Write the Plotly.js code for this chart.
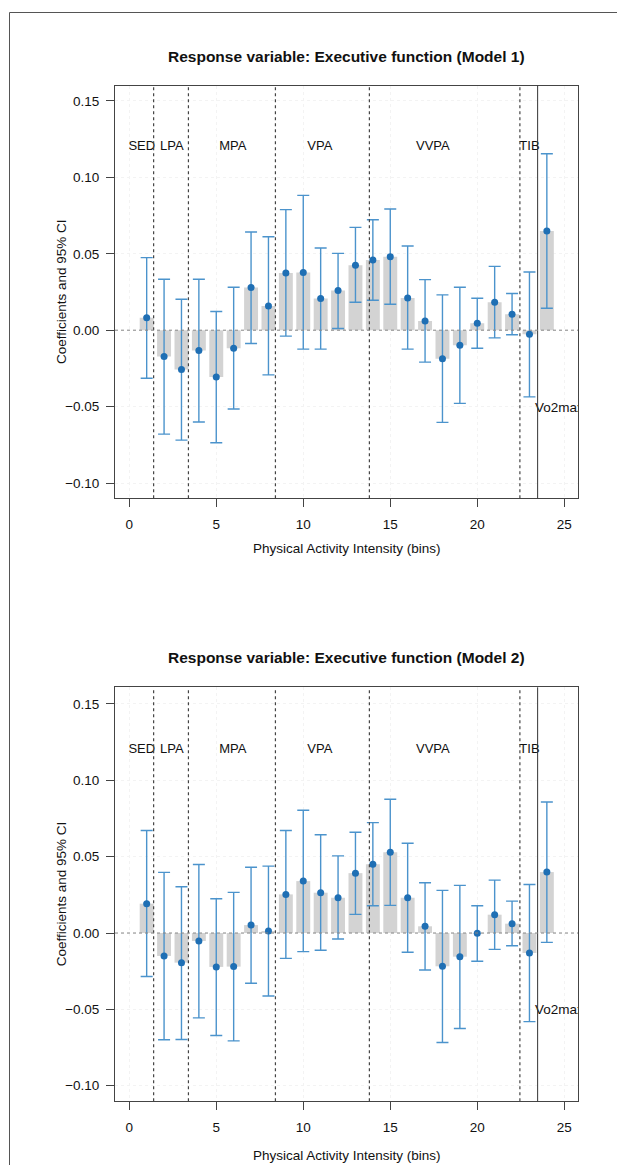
<!DOCTYPE html>
<html>
<head>
<meta charset="utf-8">
<script src="https://cdn.plot.ly/plotly-3.0.1.min.js"></script>
<style>
  html, body { margin: 0; padding: 0; background: #ffffff; }
  #chart { width: 617px; height: 1165px; }
</style>
</head>
<body>
<div id="chart"></div>
<script>
// ---------- data ----------
const bins = [1,2,3,4,5,6,7,8,9,10,11,12,13,14,15,16,17,18,19,20,21,22,23,24];

// Model 1
const est1 = [0.0081,-0.0172,-0.0257,-0.0133,-0.0307,-0.0118,0.0279,0.0159,0.0375,0.0377,0.0207,0.0259,0.0425,0.0460,0.0481,0.0211,0.0061,-0.0187,-0.0098,0.0046,0.0183,0.0105,-0.0026,0.0649];
const lo1  = [-0.0314,-0.0680,-0.0719,-0.0601,-0.0736,-0.0516,-0.0087,-0.0292,-0.0039,-0.0124,-0.0124,0.0011,0.0183,0.0196,0.0170,-0.0124,-0.0209,-0.0603,-0.0479,-0.0118,-0.0050,-0.0030,-0.0436,0.0144];
const hi1  = [0.0475,0.0333,0.0203,0.0333,0.0122,0.0281,0.0643,0.0612,0.0789,0.0882,0.0538,0.0503,0.0673,0.0723,0.0793,0.0551,0.0331,0.0231,0.0281,0.0209,0.0418,0.0240,0.0381,0.1155];

// Model 2
const est2 = [0.0192,-0.0150,-0.0194,-0.0052,-0.0222,-0.0220,0.0052,0.0013,0.0253,0.0340,0.0264,0.0231,0.0392,0.0451,0.0529,0.0231,0.0044,-0.0218,-0.0155,-0.0002,0.0120,0.0061,-0.0131,0.0399];
const lo2  = [-0.0285,-0.0699,-0.0697,-0.0556,-0.0671,-0.0706,-0.0329,-0.0412,-0.0166,-0.0122,-0.0113,-0.0039,0.0122,0.0179,0.0181,-0.0126,-0.0242,-0.0717,-0.0625,-0.0185,-0.0107,-0.0083,-0.0580,-0.0061];
const hi2  = [0.0671,0.0397,0.0303,0.0449,0.0224,0.0266,0.0431,0.0438,0.0671,0.0804,0.0643,0.0505,0.0660,0.0723,0.0876,0.0588,0.0329,0.0279,0.0312,0.0179,0.0346,0.0209,0.0318,0.0858];

// intensity category boundaries and labels
const boundaries = [1.4, 3.4, 8.4, 13.8, 22.45];
const vo2Boundary = 23.47;
const regionLabels = ["SED", "LPA", "MPA", "VPA", "VVPA", "TIB"];
const regionLabelX = [0.72, 2.45, 5.95, 10.95, 17.45, 23.0];
const regionLabelY = 0.12;
const vo2Label = "Vo2max";
const vo2LabelX = 23.32;
const vo2LabelY = -0.051;

const panelTitles = ["Response variable: Executive function (Model 1)",
                     "Response variable: Executive function (Model 2)"];
const xTitle = "Physical Activity Intensity (bins)";
const yTitle = "Coefficients and 95% CI";
const yTicks = [-0.10, -0.05, 0.00, 0.05, 0.10, 0.15];
const yTickText = ["\u22120.10", "\u22120.05", "0.00", "0.05", "0.10", "0.15"];
const xTicks = [0, 5, 10, 15, 20, 25];

// ---------- build ----------
const FONT = '"Liberation Sans", Arial, Helvetica, sans-serif';
const barColor = '#d3d3d3';
const errColor = '#4b93cc';
const ptColor = '#1f6fb4';

function panelTraces(est, lo, hi, xa, ya) {
  const plus = est.map((v, i) => hi[i] - v);
  const minus = est.map((v, i) => v - lo[i]);
  return [
    { type: 'bar', x: bins, y: est, xaxis: xa, yaxis: ya, width: 0.8,
      marker: { color: barColor, line: { width: 0 } }, hoverinfo: 'skip', showlegend: false },
    { type: 'scatter', mode: 'markers', x: bins, y: est, xaxis: xa, yaxis: ya,
      marker: { color: ptColor, size: 7 },
      error_y: { type: 'data', symmetric: false, array: plus, arrayminus: minus,
                 color: errColor, thickness: 1.4, width: 6 },
      showlegend: false },
    { type: 'scatter', mode: 'text', x: regionLabelX, y: regionLabelX.map(() => regionLabelY),
      text: regionLabels, textposition: 'middle center', xaxis: xa, yaxis: ya,
      textfont: { family: FONT, size: 13, color: '#111' }, cliponaxis: true,
      hoverinfo: 'skip', showlegend: false },
    { type: 'scatter', mode: 'text', x: [vo2LabelX], y: [vo2LabelY],
      text: [vo2Label], textposition: 'middle right', xaxis: xa, yaxis: ya,
      textfont: { family: FONT, size: 13.5, color: '#111' }, cliponaxis: true,
      hoverinfo: 'skip', showlegend: false }
  ];
}

const data = [].concat(
  panelTraces(est1, lo1, hi1, 'x', 'y'),
  panelTraces(est2, lo2, hi2, 'x2', 'y2')
);

const W = 617, H = 1165;
const xDomain = [115 / W, 578 / W];
const yDomTop = [1 - 498.3 / H, 1 - 85.7 / H];
const yDomBot = [1 - 1101.3 / H, 1 - 687.3 / H];

function xAxis(anchor) {
  return {
    domain: xDomain, anchor: anchor, range: [-0.82, 25.79],
    tickmode: 'array', tickvals: xTicks, ticks: 'outside', ticklen: 8, tickwidth: 1,
    tickcolor: '#444', showline: true, linecolor: '#444', linewidth: 1, mirror: true,
    showgrid: true, gridcolor: '#f3f3f3', griddash: 'dot', gridwidth: 1, zeroline: false,
    tickfont: { family: FONT, size: 13.5, color: '#111' }, ticklabelstandoff: 5
  };
}
function yAxis(anchor, range) {
  return {
    domain: anchor === 'x' ? yDomTop : yDomBot, anchor: anchor, range: range,
    tickmode: 'array', tickvals: yTicks, ticktext: yTickText, ticks: 'outside', ticklen: 8, tickwidth: 1,
    tickcolor: '#444', showline: true, linecolor: '#444', linewidth: 1, mirror: true,
    showgrid: true, gridcolor: '#f3f3f3', griddash: 'dot', gridwidth: 1, zeroline: false,
    tickfont: { family: FONT, size: 13.5, color: '#111' }, ticklabelstandoff: 4
  };
}

const shapes = [];
[['x', 'y'], ['x2', 'y2']].forEach(([xa, ya]) => {
  boundaries.forEach(b => shapes.push({
    type: 'line', xref: xa, yref: ya + ' domain', x0: b, x1: b, y0: 0, y1: 1,
    line: { color: '#444', width: 1.2, dash: '3px,3px' }, layer: 'above'
  }));
  shapes.push({
    type: 'line', xref: xa, yref: ya + ' domain', x0: vo2Boundary, x1: vo2Boundary, y0: 0, y1: 1,
    line: { color: '#333', width: 1 }, layer: 'above'
  });
  shapes.push({
    type: 'line', xref: xa + ' domain', yref: ya, x0: 0, x1: 1, y0: 0, y1: 0,
    line: { color: '#888', width: 1, dash: '3px,3px' }, layer: 'above'
  });
});
// outer figure frame
shapes.push({
  type: 'rect', xref: 'paper', yref: 'paper', x0: 9.5 / W, x1: 1.05, y0: -0.05, y1: 1 - 12.5 / H,
  line: { color: '#555', width: 1 }, fillcolor: 'rgba(0,0,0,0)', layer: 'above'
});

const midX = (xDomain[0] + xDomain[1]) / 2;
const txt = (text, x, y, size, angle) => ({
  text: text, xref: 'paper', yref: 'paper', x: x, y: y, textangle: angle || 0,
  xanchor: 'center', yanchor: 'middle', showarrow: false,
  font: { family: FONT, size: size, color: '#111' }
});
const annotations = [
  txt('<b>' + panelTitles[0] + '</b>', midX, 1 - 57 / H, 15.5),
  txt('<b>' + panelTitles[1] + '</b>', midX, 1 - 657 / H, 15.5),
  txt(yTitle, 61 / W, (yDomTop[0] + yDomTop[1]) / 2, 13.5, -90),
  txt(yTitle, 61 / W, (yDomBot[0] + yDomBot[1]) / 2, 13.5, -90),
  txt(xTitle, midX, 1 - 549 / H, 13.5),
  txt(xTitle, midX, 1 - 1155 / H, 13.5)
];

const layout = {
  width: W, height: H,
  margin: { l: 0, r: 0, t: 0, b: 0, pad: 0 },
  paper_bgcolor: '#ffffff', plot_bgcolor: '#ffffff',
  showlegend: false, barmode: 'overlay',
  font: { family: FONT, color: '#111' },
  xaxis: xAxis('y'), yaxis: yAxis('x', [-0.110, 0.160]),
  xaxis2: xAxis('y2'), yaxis2: yAxis('x2', [-0.1102, 0.1609]),
  shapes: shapes, annotations: annotations
};

Plotly.newPlot('chart', data, layout, { displayModeBar: false, staticPlot: true });
</script>
</body>
</html>
